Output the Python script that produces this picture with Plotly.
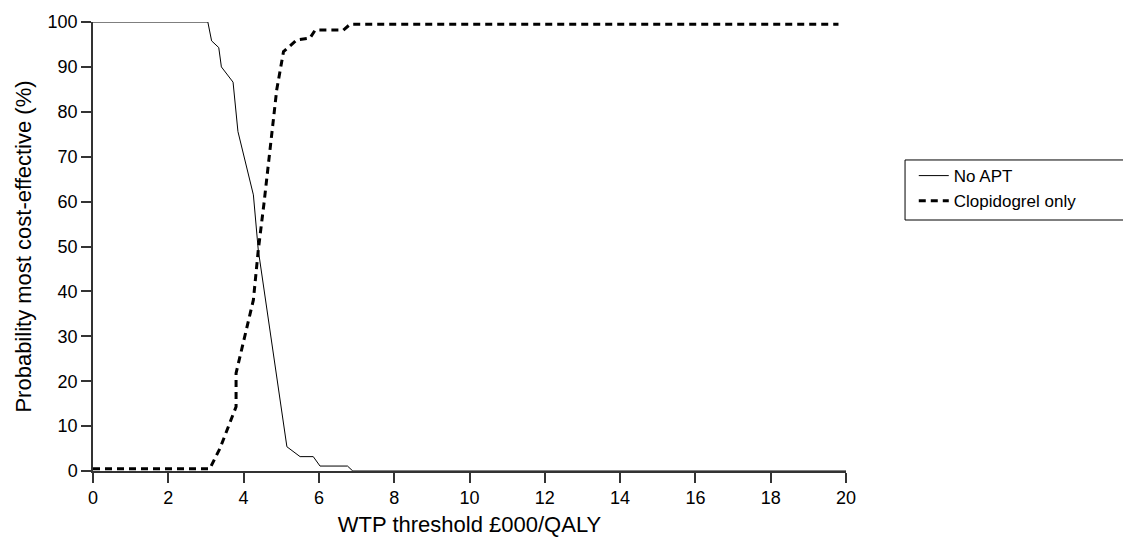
import plotly.graph_objects as go

no_apt_x = [0, 3.05, 3.15, 3.34, 3.41, 3.72, 3.85, 4.26, 4.39, 5.15, 5.5, 5.85, 6.03, 6.76, 6.9, 20]
no_apt_y = [100, 100, 95.8, 94.3, 90, 86.6, 75.6, 61.5, 49.2, 5.4, 3.2, 3.2, 1.1, 1.1, 0, 0]

clop_x = [0, 3.1, 3.37, 3.8, 3.8, 4.17, 4.26, 4.39, 4.54, 4.88, 5.06, 5.41, 5.76, 5.9, 6.65, 6.83, 19.8]
clop_y = [0.5, 0.5, 5, 14.3, 21.8, 35.1, 38.1, 49.2, 59.5, 84.9, 93.4, 96, 96.4, 98.2, 98.2, 99.5, 99.5]

x_ticks = [0, 2, 4, 6, 8, 10, 12, 14, 16, 18, 20]
y_ticks = [0, 10, 20, 30, 40, 50, 60, 70, 80, 90, 100]

fig = go.Figure()
fig.add_trace(go.Scatter(x=no_apt_x, y=no_apt_y, mode="lines", name="No APT",
                         line=dict(color="black", width=1), cliponaxis=False))
fig.add_trace(go.Scatter(x=clop_x, y=clop_y, mode="lines", name="Clopidogrel only",
                         line=dict(color="black", width=3, dash="7px,5px"), cliponaxis=False))

fam = "Liberation Sans, Arial, sans-serif"
font = dict(family=fam, size=18, color="black")
fig.update_layout(
    width=1123, height=537,
    margin=dict(l=93, r=277, t=22, b=66),
    plot_bgcolor="white", paper_bgcolor="white",
    font=font,
    showlegend=True,
    legend=dict(x=1.09, y=0.697, xanchor="left", yanchor="top",
                bgcolor="rgba(0,0,0,0)", borderwidth=0, itemwidth=30,
                font=dict(family=fam, size=17, color="black")),
    shapes=[dict(type="rect", xref="paper", yref="paper",
                 x0=1.0784, x1=1.5, y0=0.559, y1=0.6927,
                 line=dict(color="black", width=1), fillcolor="rgba(0,0,0,0)")],
    xaxis=dict(range=[0, 20], tickvals=x_ticks, ticks="outside", ticklen=10, tickwidth=1.5,
               tickcolor="#333", showline=True, linecolor="#333", linewidth=1.5,
               showgrid=False, zeroline=False, automargin=False,
               title=dict(text="WTP threshold £000/QALY", standoff=10)),
    yaxis=dict(range=[0, 100], tickvals=y_ticks, ticks="outside", ticklen=10, tickwidth=1.5,
               tickcolor="#333", showline=True, linecolor="#333", linewidth=1.5,
               showgrid=False, zeroline=False, automargin=False,
               title=dict(text="Probability most cost-effective (%)", standoff=10)),
)
fig.write_html("out.html")
